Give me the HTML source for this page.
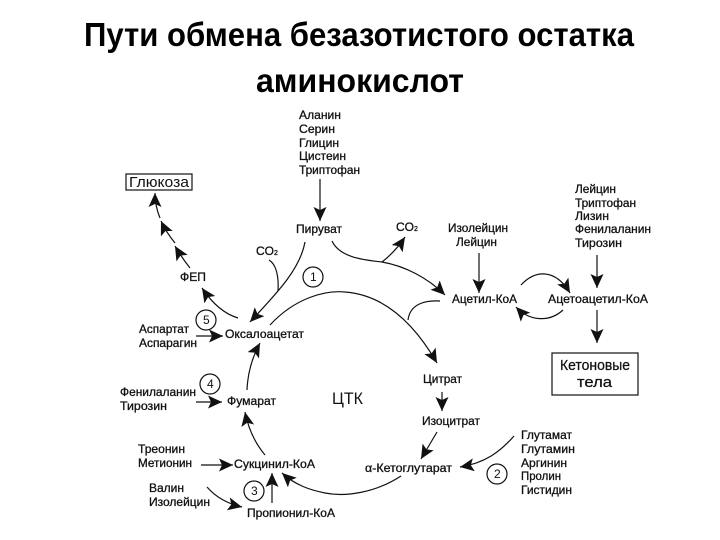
<!DOCTYPE html>
<html><head><meta charset="utf-8"><style>
html,body{margin:0;padding:0;background:#fff}
svg{display:block}
text{font-family:"Liberation Sans",sans-serif;fill:#111}
.t{font-size:33px;font-weight:bold;fill:#000}
.l{font-size:12px;stroke:#111;stroke-width:.3px}
.p{fill:none;stroke:#111;stroke-width:1.2}
.c{fill:#fff;stroke:#111;stroke-width:1.2}
</style></head><body>
<svg width="720" height="540" viewBox="0 0 720 540" xmlns="http://www.w3.org/2000/svg">
<defs><marker id="a" markerUnits="userSpaceOnUse" markerWidth="16" markerHeight="14" refX="14" refY="6.5" orient="auto"><path d="M0 0L14 6.5L0 13L3 6.5Z" fill="#111"/></marker></defs>
<text class="t" x="84" y="46" textLength="550" lengthAdjust="spacingAndGlyphs">Пути обмена безазотистого остатка</text>
<text class="t" x="256" y="92" textLength="208" lengthAdjust="spacingAndGlyphs">аминокислот</text>

<rect x="126" y="174" width="66" height="16" fill="#fff" stroke="#111" stroke-width="1.2"/>
<text x="129" y="187" font-size="15" textLength="60" lengthAdjust="spacingAndGlyphs">Глюкоза</text>
<rect x="552" y="353" width="86" height="42" fill="#fff" stroke="#111" stroke-width="1.2"/>
<text x="560" y="370" font-size="15" textLength="70" lengthAdjust="spacingAndGlyphs" stroke="#111" stroke-width=".25">Кетоновые</text>
<text x="577" y="387" font-size="15" textLength="35" lengthAdjust="spacingAndGlyphs" stroke="#111" stroke-width=".25">тела</text>

<g class="p">
<path d="M320 179V221" marker-end="url(#a)"/>
<path d="M190 268Q182 258 175 246" marker-end="url(#a)"/>
<path d="M175 243Q166 232 161 221" marker-end="url(#a)"/>
<path d="M160 218Q155 206 155 193" marker-end="url(#a)"/>
<path d="M238 318Q218 312 202 288" marker-end="url(#a)"/>
<path d="M305 242C300 270 275 295 250 322" marker-end="url(#a)"/>
<path d="M269 260C276 264 279 276 278 291"/>
<path d="M332 241C340 258 365 260 382 262C405 266 428 278 445 295" marker-end="url(#a)"/>
<path d="M382 262Q395 252 405 237" marker-end="url(#a)"/>
<path d="M270 325C295 298 325 290 345 292C385 295 415 325 437 363" marker-end="url(#a)"/>
<path d="M440 301C425 300 410 304 408 320"/>
<path d="M442 392V411" marker-end="url(#a)"/>
<path d="M437 432L421 459" marker-end="url(#a)"/>
<path d="M514 436C500 452 485 463 460 467" marker-end="url(#a)"/>
<path d="M401 476C375 493 345 497 325 493C310 490 295 485 282 473" marker-end="url(#a)"/>
<path d="M272 503V473" marker-end="url(#a)"/>
<path d="M207 487Q220 502 242 507" marker-end="url(#a)"/>
<path d="M201 465H233" marker-end="url(#a)"/>
<path d="M265 455Q250 437 245 412" marker-end="url(#a)"/>
<path d="M196 402H222" marker-end="url(#a)"/>
<path d="M247 390Q248 365 260 343" marker-end="url(#a)"/>
<path d="M196 336H223" marker-end="url(#a)"/>
<path d="M479 253V293" marker-end="url(#a)"/>
<path d="M521 285C535 270 555 268 570 293" marker-end="url(#a)"/>
<path d="M563 310C550 322 530 322 516 307" marker-end="url(#a)"/>
<path d="M597 255V288" marker-end="url(#a)"/>
<path d="M597 310V343" marker-end="url(#a)"/>
</g>

<circle class="c" cx="313" cy="277" r="10"/><text x="310" y="281" font-size="12">1</text>
<circle class="c" cx="497" cy="474" r="10"/><text x="494" y="478" font-size="12">2</text>
<circle class="c" cx="254" cy="491" r="10"/><text x="251" y="495" font-size="12">3</text>
<circle class="c" cx="210" cy="384" r="10"/><text x="207" y="388" font-size="12">4</text>
<circle class="c" cx="206" cy="320" r="10"/><text x="203" y="324" font-size="12">5</text>

<g class="l">
<text x="299" y="119" textLength="42" lengthAdjust="spacingAndGlyphs">Аланин</text>
<text x="299" y="133" textLength="36" lengthAdjust="spacingAndGlyphs">Серин</text>
<text x="299" y="147" textLength="40" lengthAdjust="spacingAndGlyphs">Глицин</text>
<text x="299" y="160" textLength="47" lengthAdjust="spacingAndGlyphs">Цистеин</text>
<text x="299" y="174" textLength="61" lengthAdjust="spacingAndGlyphs">Триптофан</text>
<text x="296" y="233" textLength="46" lengthAdjust="spacingAndGlyphs">Пируват</text>
<text x="256" y="255">CO<tspan font-size="7">2</tspan></text>
<text x="396" y="231">CO<tspan font-size="7">2</tspan></text>
<text x="180" y="281" textLength="26" lengthAdjust="spacingAndGlyphs">ФЕП</text>
<text x="448" y="232" textLength="60" lengthAdjust="spacingAndGlyphs">Изолейцин</text>
<text x="456" y="246" textLength="41" lengthAdjust="spacingAndGlyphs">Лейцин</text>
<text x="452" y="303" textLength="65" lengthAdjust="spacingAndGlyphs">Ацетил-КоА</text>
<text x="548" y="303" textLength="100" lengthAdjust="spacingAndGlyphs">Ацетоацетил-КоА</text>
<text x="575" y="193" textLength="41" lengthAdjust="spacingAndGlyphs">Лейцин</text>
<text x="575" y="207" textLength="61" lengthAdjust="spacingAndGlyphs">Триптофан</text>
<text x="575" y="220" textLength="34" lengthAdjust="spacingAndGlyphs">Лизин</text>
<text x="575" y="233" textLength="76" lengthAdjust="spacingAndGlyphs">Фенилаланин</text>
<text x="575" y="247" textLength="47" lengthAdjust="spacingAndGlyphs">Тирозин</text>
<text x="139" y="333" textLength="50" lengthAdjust="spacingAndGlyphs">Аспартат</text>
<text x="139" y="347" textLength="58" lengthAdjust="spacingAndGlyphs">Аспарагин</text>
<text x="225" y="338" textLength="79" lengthAdjust="spacingAndGlyphs">Оксалоацетат</text>
<text x="120" y="396" textLength="76" lengthAdjust="spacingAndGlyphs">Фенилаланин</text>
<text x="120" y="410" textLength="47" lengthAdjust="spacingAndGlyphs">Тирозин</text>
<text x="227" y="405" textLength="49" lengthAdjust="spacingAndGlyphs">Фумарат</text>
<text x="423" y="383" textLength="39" lengthAdjust="spacingAndGlyphs">Цитрат</text>
<text x="422" y="425" textLength="58" lengthAdjust="spacingAndGlyphs">Изоцитрат</text>
<text x="365" y="472" textLength="87" lengthAdjust="spacingAndGlyphs">α-Кетоглутарат</text>
<text x="521" y="439" textLength="51" lengthAdjust="spacingAndGlyphs">Глутамат</text>
<text x="521" y="453" textLength="54" lengthAdjust="spacingAndGlyphs">Глутамин</text>
<text x="521" y="467" textLength="46" lengthAdjust="spacingAndGlyphs">Аргинин</text>
<text x="521" y="480" textLength="40" lengthAdjust="spacingAndGlyphs">Пролин</text>
<text x="521" y="494" textLength="51" lengthAdjust="spacingAndGlyphs">Гистидин</text>
<text x="138" y="453" textLength="47" lengthAdjust="spacingAndGlyphs">Треонин</text>
<text x="138" y="467" textLength="54" lengthAdjust="spacingAndGlyphs">Метионин</text>
<text x="234" y="468" textLength="81" lengthAdjust="spacingAndGlyphs">Сукцинил-КоА</text>
<text x="149" y="492" textLength="35" lengthAdjust="spacingAndGlyphs">Валин</text>
<text x="149" y="506" textLength="61" lengthAdjust="spacingAndGlyphs">Изолейцин</text>
<text x="247" y="517" textLength="88" lengthAdjust="spacingAndGlyphs">Пропионил-КоА</text>
</g>
<text x="332" y="404" font-size="17" textLength="31" lengthAdjust="spacingAndGlyphs">ЦТК</text>
</svg>
</body></html>
